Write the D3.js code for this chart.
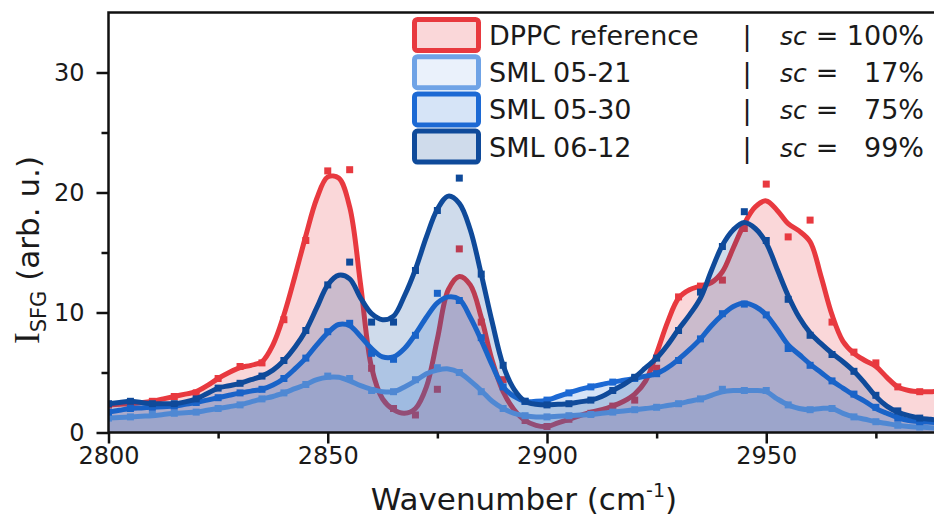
<!DOCTYPE html>
<html>
<head>
<meta charset="utf-8">
<script src="https://cdn.jsdelivr.net/npm/d3@7"></script>
<style>
  body { margin: 0; background: #fff; }
  svg { display: block; font-family: 'DejaVu Sans', Verdana, sans-serif; }
</style>
</head>
<body>
<div id="chart"></div>
<script>
// measured points (cm-1)
var dataWavenumbers = [2800, 2805, 2810, 2815, 2820, 2825, 2830, 2835, 2840, 2845,
  2850, 2855, 2860, 2865, 2870, 2875, 2880, 2885, 2890, 2895,
  2900, 2905, 2910, 2915, 2920, 2925, 2930, 2935, 2940, 2945,
  2950, 2955, 2960, 2965, 2970, 2975, 2980, 2985, 2990];
// fit curves are sampled twice as densely
var fitWavenumbers = [2800, 2802.5, 2805, 2807.5, 2810, 2812.5, 2815, 2817.5, 2820, 2822.5,
  2825, 2827.5, 2830, 2832.5, 2835, 2837.5, 2840, 2842.5, 2845, 2847.5,
  2850, 2852.5, 2855, 2857.5, 2860, 2862.5, 2865, 2867.5, 2870, 2872.5,
  2875, 2877.5, 2880, 2882.5, 2885, 2887.5, 2890, 2892.5, 2895, 2897.5,
  2900, 2902.5, 2905, 2907.5, 2910, 2912.5, 2915, 2917.5, 2920, 2922.5,
  2925, 2927.5, 2930, 2932.5, 2935, 2937.5, 2940, 2942.5, 2945, 2947.5,
  2950, 2952.5, 2955, 2957.5, 2960, 2962.5, 2965, 2967.5, 2970, 2972.5,
  2975, 2977.5, 2980, 2982.5, 2985, 2987.5, 2990];

// DPPC reference
var dppcFit = [2.3, 2.35, 2.4, 2.5, 2.6, 2.8, 3.0, 3.2, 3.4, 3.9,
  4.5, 5.0, 5.4, 5.6, 5.9, 7.3, 9.8, 13.0, 16.4, 19.5,
  21.3, 21.2, 18.8, 12.3, 5.4, 2.8, 1.9, 1.6, 2.0, 3.8,
  7.8, 11.9, 13.0, 12.3, 9.6, 6.0, 3.4, 1.9, 1.0, 0.6,
  0.5, 0.8, 1.1, 1.4, 1.7, 1.9, 2.2, 2.6, 3.2, 4.3,
  6.6, 9.2, 11.2, 11.9, 12.2, 12.5, 13.4, 15.4, 17.4, 18.8,
  19.3, 18.5, 17.4, 16.8, 15.9, 13.0, 9.8, 7.6, 6.6, 6.0,
  5.5, 4.6, 3.8, 3.5, 3.4, 3.4, 3.5];
var dppcData = [2.3, 2.4, 2.6, 3.0, 3.3, 4.5, 5.5, 5.8, 9.4, 16.0,
  21.8, 21.9, 5.35, 2.0, 1.46, 3.6, 15.3, 9.2, 4.4, 1.0,
  0.5, 1.1, 1.6, 2.2, 2.7, 5.35, 11.3, 12.2, 12.7, 17.0,
  20.7, 16.3, 17.7, 9.2, 6.7, 5.8, 3.8, 3.4, 3.5];

// SML 05-21
var sml0521Fit = [1.2, 1.25, 1.3, 1.35, 1.4, 1.5, 1.6, 1.65, 1.7, 1.85,
  2.0, 2.15, 2.3, 2.55, 2.8, 3.0, 3.3, 3.65, 4.0, 4.4,
  4.6, 4.6, 4.3, 3.9, 3.6, 3.4, 3.4, 3.8, 4.3, 4.9,
  5.2, 5.3, 5.0, 4.3, 3.5, 2.6, 2.0, 1.6, 1.4, 1.3,
  1.3, 1.35, 1.4, 1.45, 1.5, 1.6, 1.7, 1.8, 1.9, 2.0,
  2.1, 2.25, 2.4, 2.6, 2.8, 3.1, 3.4, 3.5, 3.5, 3.5,
  3.4, 2.8, 2.3, 2.0, 1.9, 2.0, 2.0, 1.6, 1.3, 1.1,
  0.9, 0.75, 0.6, 0.5, 0.45, 0.4, 0.35];
var sml0521Data = [1.2, 1.3, 1.5, 1.6, 1.7, 2.0, 2.3, 2.8, 3.3, 4.0,
  4.7, 4.5, 3.5, 3.4, 4.4, 5.4, 5.0, 3.4, 2.0, 1.4,
  1.3, 1.4, 1.5, 1.7, 1.9, 2.1, 2.4, 2.8, 3.6, 3.5,
  3.5, 2.3, 1.9, 2.0, 1.3, 0.9, 0.6, 0.45, 0.35];

// SML 05-30
var sml0530Fit = [1.7, 1.85, 2.0, 2.05, 2.1, 2.15, 2.2, 2.35, 2.5, 2.7,
  2.9, 3.1, 3.3, 3.45, 3.6, 3.95, 4.5, 5.3, 6.2, 7.3,
  8.3, 9.0, 8.9, 8.0, 7.0, 6.3, 6.3, 7.0, 8.2, 9.6,
  10.8, 11.3, 11.1, 9.6, 7.7, 5.6, 3.8, 3.0, 2.6, 2.6,
  2.7, 3.0, 3.3, 3.6, 3.8, 4.0, 4.2, 4.35, 4.5, 4.7,
  4.9, 5.4, 6.1, 6.9, 7.8, 8.9, 9.8, 10.5, 10.8, 10.5,
  9.8, 8.6, 7.3, 6.5, 5.7, 5.0, 4.3, 3.7, 3.1, 2.6,
  2.0, 1.6, 1.25, 1.0, 0.9, 0.85, 0.8];
var sml0530Data = [1.7, 2.0, 2.1, 2.2, 2.5, 2.9, 3.3, 3.6, 4.5, 6.2,
  8.4, 9.1, 6.6, 6.1, 8.1, 11.6, 11.0, 7.9, 3.8, 2.6,
  2.7, 3.3, 3.8, 4.2, 4.5, 4.9, 6.0, 7.8, 9.9, 10.7,
  9.8, 7.0, 5.6, 4.3, 3.2, 2.1, 1.2, 0.9, 0.8];

// SML 06-12
var sml0612Fit = [2.4, 2.5, 2.6, 2.5, 2.4, 2.4, 2.4, 2.55, 2.8, 3.25,
  3.7, 3.9, 4.1, 4.4, 4.7, 5.2, 6.0, 7.1, 8.5, 10.4,
  12.3, 13.1, 12.8, 11.2, 9.9, 9.4, 9.7, 11.4, 13.6, 16.3,
  18.6, 19.7, 19.1, 16.9, 13.2, 9.2, 5.6, 3.6, 2.6, 2.35,
  2.3, 2.35, 2.4, 2.55, 2.7, 3.0, 3.5, 4.0, 4.6, 5.4,
  6.2, 7.3, 8.6, 9.8, 11.2, 13.5, 15.6, 16.9, 17.5, 17.0,
  15.8, 13.6, 11.4, 9.6, 8.3, 7.4, 6.6, 5.9, 5.1, 4.1,
  3.0, 2.2, 1.7, 1.4, 1.2, 1.1, 1.0];
var sml0612Data = [2.4, 2.6, 2.4, 2.4, 2.8, 3.7, 4.1, 4.7, 6.0, 8.5,
  12.3, 14.2, 9.2, 9.2, 13.5, 18.5, 21.2, 13.2, 5.6, 2.6,
  2.3, 2.4, 2.7, 3.5, 4.6, 6.2, 8.5, 11.7, 15.5, 18.4,
  16.0, 11.1, 8.1, 6.5, 5.1, 3.1, 1.8, 1.2, 1.0];

var seriesNames = ['DPPC reference', 'SML 05-21', 'SML 05-30', 'SML 06-12'];
var scValues = ['100%', '17%', '75%', '99%'];
var xMajorTicks = [2800, 2850, 2900, 2950];
var xMinorTicks = [2825, 2875, 2925, 2975];
var yMajorTicks = [0, 10, 20, 30];
var yMinorTicks = [5, 15, 25];

var lineColors = ['#e8393f', '#6fa3e6', '#1c69d4', '#0f4a9a'];
var fillOpacity = [0.2, 0.15, 0.18, 0.2];

var svgWidth = 934;
var svgHeight = 519;
var plot = { left: 108.5, top: 12.5, right: 934, bottom: 432.5 };

var svg = d3.select('#chart')
  .append('svg')
  .attr('width', svgWidth)
  .attr('height', svgHeight);

// the picture cuts the x axis at its right edge
var x = d3.scaleLinear()
  .domain([2800, 2800 + (plot.right - plot.left) / 4.385])
  .range([plot.left, plot.right]);
var y = d3.scaleLinear()
  .domain([0, 35])
  .range([plot.bottom, plot.top]);

svg.append('clipPath').attr('id', 'clip')
  .append('rect')
  .attr('x', plot.left).attr('y', plot.top)
  .attr('width', plot.right - plot.left)
  .attr('height', plot.bottom - plot.top);

var series = [
  { fit: dppcFit, data: dppcData },
  { fit: sml0521Fit, data: sml0521Data },
  { fit: sml0530Fit, data: sml0530Data },
  { fit: sml0612Fit, data: sml0612Data }
];

var curve = d3.curveCatmullRom.alpha(0.5);
var area = d3.area()
  .x(function (d) { return x(d[0]); })
  .y0(y(0))
  .y1(function (d) { return y(d[1]); })
  .curve(curve);
var line = d3.line()
  .x(function (d) { return x(d[0]); })
  .y(function (d) { return y(d[1]); })
  .curve(curve);

var plotG = svg.append('g').attr('clip-path', 'url(#clip)');

series.forEach(function (s, i) {
  var fitPts = fitWavenumbers.map(function (w, k) { return [w, s.fit[k]]; });
  var dataPts = dataWavenumbers.map(function (w, k) { return [w, s.data[k]]; });
  var g = plotG.append('g');
  g.append('path')
    .datum(fitPts)
    .attr('d', area)
    .attr('fill', lineColors[i])
    .attr('fill-opacity', fillOpacity[i]);
  g.selectAll('rect')
    .data(dataPts)
    .enter()
    .append('rect')
    .attr('x', function (d) { return x(d[0]) - 3.5; })
    .attr('y', function (d) { return y(d[1]) - 3.5; })
    .attr('width', 7)
    .attr('height', 7)
    .attr('fill', lineColors[i]);
  g.append('path')
    .datum(fitPts)
    .attr('d', line)
    .attr('fill', 'none')
    .attr('stroke', lineColors[i])
    .attr('stroke-width', 5)
    .attr('stroke-linejoin', 'round');
});

// axes
function styleAxis(g) {
  g.select('.domain').remove();
  g.selectAll('line').attr('stroke', '#111').attr('stroke-width', 2.5);
  g.selectAll('text')
    .attr('font-size', '24px')
    .attr('font-family', "'DejaVu Sans', Verdana, sans-serif")
    .attr('fill', '#1a1a1a');
}
function addXAxis() {
  svg.append('g')
    .attr('transform', 'translate(0,' + plot.bottom + ')')
    .call(d3.axisBottom(x).tickValues(xMajorTicks).tickSize(11).tickPadding(3).tickFormat(d3.format('d')))
    .call(styleAxis);
  svg.append('g')
    .attr('transform', 'translate(0,' + plot.bottom + ')')
    .call(d3.axisBottom(x).tickValues(xMinorTicks).tickSize(6).tickFormat(''))
    .call(styleAxis);
}
function addYAxis() {
  svg.append('g')
    .attr('transform', 'translate(' + plot.left + ',0)')
    .call(d3.axisLeft(y).tickValues(yMajorTicks).tickSize(12).tickPadding(12))
    .call(styleAxis);
  svg.append('g')
    .attr('transform', 'translate(' + plot.left + ',0)')
    .call(d3.axisLeft(y).tickValues(yMinorTicks).tickSize(7).tickFormat(''))
    .call(styleAxis);
}
addXAxis();
addYAxis();

// frame: left, bottom, top (right side is outside the picture)
svg.append('path')
  .attr('d', 'M' + plot.right + ',' + plot.top + 'H' + plot.left + 'V' + plot.bottom + 'H' + plot.right)
  .attr('fill', 'none')
  .attr('stroke', '#111')
  .attr('stroke-width', 2.5);

// axis titles
var xTitle = svg.append('text')
  .attr('x', 524)
  .attr('y', 510)
  .attr('text-anchor', 'middle')
  .attr('font-size', '31px')
  .attr('fill', '#1a1a1a');
xTitle.append('tspan').text('Wavenumber (cm');
xTitle.append('tspan').attr('dy', -13).attr('font-size', '19px').text('-1');
xTitle.append('tspan').attr('dy', 13).text(')');

var yTitle = svg.append('text')
  .attr('transform', 'translate(39,250) rotate(-90)')
  .attr('text-anchor', 'middle')
  .attr('font-size', '31px')
  .attr('fill', '#1a1a1a');
yTitle.append('tspan').attr('font-family', "'Liberation Serif', 'DejaVu Serif', serif").attr('font-size', '35px').text('I');
yTitle.append('tspan').attr('dy', 7).attr('font-size', '21px').text('SFG');
yTitle.append('tspan').attr('dy', -7).text(' (arb. u.)');

// legend
var legend = svg.append('g');
seriesNames.forEach(function (name, i) {
  var cy = 35 + 37.2 * i;
  legend.append('rect')
    .attr('x', 414.5)
    .attr('y', cy - 15.5)
    .attr('width', 64)
    .attr('height', 31)
    .attr('rx', 3)
    .attr('fill', '#fff');
  legend.append('rect')
    .attr('x', 414.5)
    .attr('y', cy - 15.5)
    .attr('width', 64)
    .attr('height', 31)
    .attr('rx', 3)
    .attr('fill', lineColors[i])
    .attr('fill-opacity', fillOpacity[i])
    .attr('stroke', lineColors[i])
    .attr('stroke-width', 5);
  var row = legend.append('g')
    .attr('font-size', '27px')
    .attr('fill', '#1a1a1a');
  row.append('text').attr('x', 489).attr('y', cy + 10).text(name);
  row.append('text').attr('x', 747).attr('y', cy + 10).attr('text-anchor', 'middle').text('|');
  row.append('text').attr('x', 780).attr('y', cy + 10).attr('font-size', '25px').attr('font-style', 'italic').text('sc');
  row.append('text').attr('x', 827).attr('y', cy + 10).attr('text-anchor', 'middle').text('=');
  row.append('text').attr('x', 924).attr('y', cy + 10).attr('text-anchor', 'end').text(scValues[i]);
});
</script>
</body>
</html>
